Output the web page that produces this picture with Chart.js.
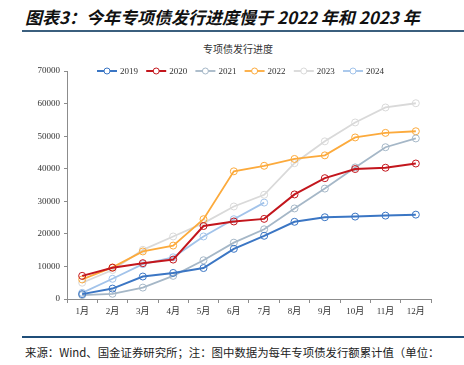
<!DOCTYPE html>
<html>
<head>
<meta charset="utf-8">
<script src="https://cdn.jsdelivr.net/npm/chart.js@4/dist/chart.umd.min.js"></script>
<style>
  html, body { margin: 0; padding: 0; background: #fff; }
  #page { position: relative; width: 464px; height: 365px; overflow: hidden; }
  #title {
    position: absolute; left: 25px; top: 4px;
    font: italic bold 17px "Noto Sans CJK SC", sans-serif; color: #111; white-space: nowrap;
  }
  #ruleTop { position: absolute; left: 22px; right: 0; top: 30px; height: 2px; background: #3b5f7e; }
  #chartTitle {
    position: absolute; left: 0; width: 476px; top: 41px; text-align: center;
    font: 10px "Noto Sans CJK SC", serif; color: #333;
  }
  #wrap { position: absolute; left: 0; top: 36px; width: 464px; height: 300px; }
  #ruleBottom { position: absolute; left: 22px; right: 0; top: 336px; height: 2px; background: #1f4e79; }
  #source {
    position: absolute; left: 25px; top: 344px; white-space: nowrap;
    font: 11.4px "Noto Sans CJK SC", serif; color: #222;
  }
</style>
</head>
<body>
<div id="page">
  <div id="title">图表3：今年专项债发行进度慢于 2022 年和 2023 年</div>
  <div id="ruleTop"></div>
  <div id="chartTitle">专项债发行进度</div>
  <div id="wrap"><canvas id="chart"></canvas></div>
  <div id="ruleBottom"></div>
  <div id="source">来源：Wind、国金证券研究所；注：图中数据为每年专项债发行额累计值（单位：</div>
</div>
<script>
// 月份
const months = ['1月', '2月', '3月', '4月', '5月', '6月', '7月', '8月', '9月', '10月', '11月', '12月'];

// 各年专项债累计发行额
const v2019 = [1500, 3200, 6900, 8000, 9500, 15400, 19400, 23700, 25100, 25300, 25600, 25900];
const v2020 = [7100, 9600, 11000, 12100, 22400, 23800, 24600, 32100, 37100, 39900, 40300, 41600];
const v2021 = [1200, 1600, 3500, 7100, 11900, 17300, 21400, 27800, 33900, 40400, 46600, 49300];
const v2022 = [6000, 9700, 14600, 16400, 24500, 39200, 40900, 43000, 44100, 49600, 51000, 51500];
const v2023 = [5000, 8900, 15100, 19200, 23300, 28400, 32000, 41700, 48400, 54200, 58800, 60100];
const v2024 = [1900, 6200, 10700, 12800, 19200, 24500, 29600];

const yTicks = [0, 10000, 20000, 30000, 40000, 50000, 60000, 70000];

const series = [
  { label: '2019', data: v2019, color: '#3b76c4', width: 2 },
  { label: '2020', data: v2020, color: '#c3161d', width: 2 },
  { label: '2021', data: v2021, color: '#a5b7c7', width: 1.8 },
  { label: '2022', data: v2022, color: '#fcaa3c', width: 1.8 },
  { label: '2023', data: v2023, color: '#d9d9d9', width: 1.8 },
  { label: '2024', data: v2024, color: '#a2c3ea', width: 1.8 },
];

const AXIS = '#8c8c8c';
const TEXT = '#333';

// 图例：画在绘图区顶部（与 70000 同一高度）
const legendPlugin = {
  id: 'inlineLegend',
  afterDraw(chart) {
    const ctx = chart.ctx;
    const y = chart.chartArea.top;
    ctx.save();
    ctx.font = '9px "Liberation Serif", serif';
    ctx.textBaseline = 'middle';
    chart.data.datasets.forEach((ds, i) => {
      const x = 97 + i * 49.2;
      ctx.strokeStyle = ds.borderColor;
      ctx.lineWidth = ds.borderWidth;
      ctx.beginPath(); ctx.moveTo(x, y); ctx.lineTo(x + 20, y); ctx.stroke();
      ctx.lineWidth = 1;
      ctx.fillStyle = '#fff';
      ctx.beginPath(); ctx.arc(x + 10, y, 3, 0, Math.PI * 2); ctx.fill(); ctx.stroke();
      ctx.fillStyle = TEXT;
      ctx.fillText(ds.label, x + 23, y + 0.5);
    });
    ctx.restore();
  }
};

new Chart(document.getElementById('chart'), {
  type: 'line',
  data: {
    labels: months,
    datasets: series.map((s) => ({
      label: s.label,
      data: s.data,
      borderColor: s.color,
      borderWidth: s.width,
      pointRadius: 3.5,
      pointBorderWidth: 1,
      pointBorderColor: s.color,
      pointBackgroundColor: 'rgba(255,255,255,0)',
      tension: 0,
    }))
  },
  options: {
    responsive: true,
    maintainAspectRatio: false,
    animation: false,
    layout: { padding: { top: 35, right: 33, left: 0, bottom: 0 } },
    plugins: { legend: { display: false }, tooltip: { enabled: false }, title: { display: false } },
    scales: {
      x: {
        offset: true,
        afterFit: (s) => { s.height = 37; },
        grid: { offset: true, drawOnChartArea: false, drawTicks: true, tickLength: 4, color: AXIS },
        border: { color: AXIS, width: 1 },
        ticks: { color: TEXT, padding: 3, maxRotation: 0, font: { size: 9, family: '"Liberation Serif", "Noto Sans CJK SC", serif' } }
      },
      y: {
        min: 0, max: 70000,
        afterFit: (s) => { s.width = 67; },
        afterBuildTicks: (s) => { s.ticks = yTicks.map((v) => ({ value: v })); },
        grid: { drawOnChartArea: false, drawTicks: true, tickLength: 3, color: AXIS },
        border: { color: AXIS, width: 1 },
        ticks: { color: TEXT, padding: 4, callback: (v) => String(v), font: { size: 9, family: '"Liberation Serif", serif' } }
      }
    }
  },
  plugins: [legendPlugin]
});
</script>
</body>
</html>
